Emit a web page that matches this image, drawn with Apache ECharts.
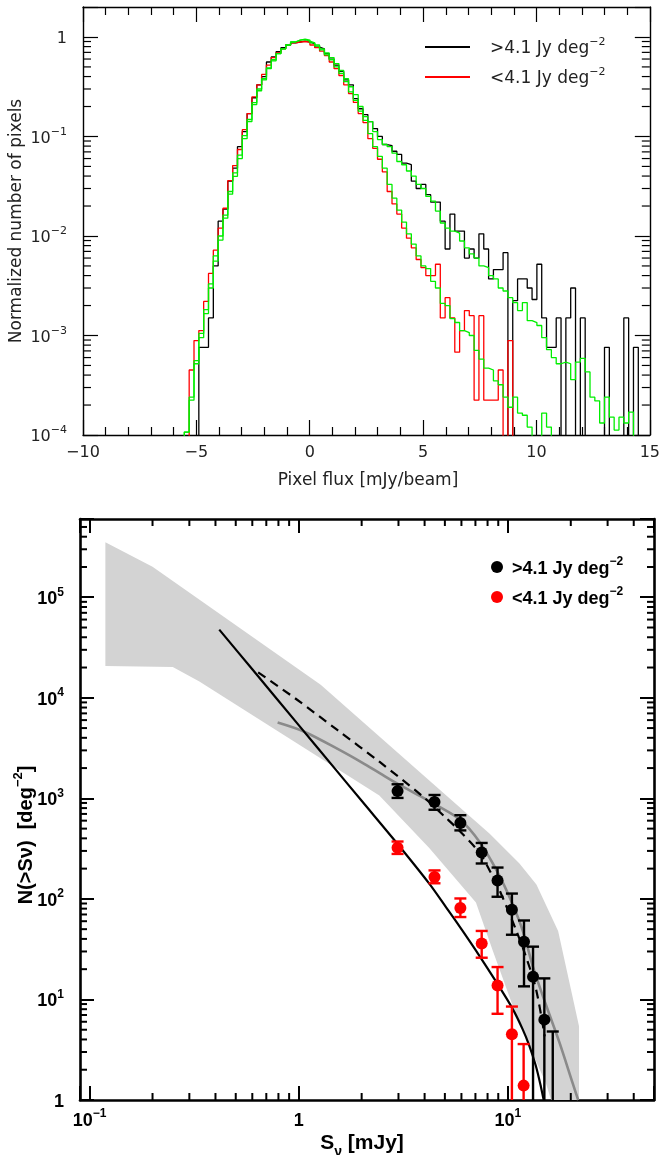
<!DOCTYPE html>
<html><head><meta charset="utf-8">
<script src="https://cdn.jsdelivr.net/npm/echarts@6/dist/echarts.min.js"></script>
<style>html,body{margin:0;padding:0;background:#fff}#c{width:663px;height:1155px}</style>
</head><body><div id="c"></div>
<script>
// ================= DATA =================
// Top panel: pixel-flux histograms (bins of equal width starting at binStart, mJy/beam)
const binStart = -5.53, binWidth = 0.213;
const histBlack = [0,0,0,7.6e-4,7.6e-4,1.5e-3,5.0e-3,1.41e-2,1.86e-2,3.55e-2,
  4.8e-2,7.9e-2,0.112,0.17,0.245,0.33,0.40,0.56,0.63,0.71,
  0.78,0.83,0.87,0.89,0.91,0.89,0.85,0.79,0.76,0.68,
  0.60,0.52,0.45,0.37,0.33,0.24,0.19,0.166,0.141,0.120,
  0.100,0.083,0.081,0.071,0.066,0.054,0.052,0.0355,0.030,0.033,
  0.026,0.0219,0.0219,0.0141,0.0074,0.0166,0.0112,0.0112,0.0060,0.0074,
  0.0060,0.0105,0.0074,0.0037,0.0046,0.0046,0.0068,0,0.00224,0.0037,
  0.0037,0.0030,0.0023,0.0052,0.0015,7.6e-4,7.6e-4,0.0015,0,0.0015,
  0.0030,0,0.0015,0,0,0,0,7.6e-4,0,0,
  0,0.0015,0,7.6e-4,0];
const histRed = [0,4.5e-4,8.9e-4,1.12e-3,2.2e-3,4.2e-3,7.2e-3,1.2e-2,1.9e-2,3.6e-2,
  5.1e-2,7.4e-2,0.117,0.17,0.25,0.33,0.42,0.52,0.62,0.69,
  0.76,0.83,0.87,0.89,0.90,0.89,0.83,0.78,0.72,0.65,
  0.56,0.48,0.41,0.33,0.27,0.22,0.17,0.138,0.095,0.076,
  0.059,0.044,0.028,0.021,0.0166,0.012,0.0095,0.0076,0.0058,0.0048,
  0.0040,0.0040,0.0052,0.0015,0.0024,0.0015,6.8e-4,1.12e-3,1.78e-3,1.58e-3,
  2.24e-4,1.58e-3,2.24e-4,2.24e-4,2.24e-4,4.5e-4,0,8.9e-4,0,0,
  0,0,0,0,0,0,0,0,0,0,
  0,0,0,0,0,0,0,0,0,0,
  0,0,0,0,0];
const histGreenHigh = [1.07e-4,2.24e-4,5.2e-4,9.5e-4,1.66e-3,3.0e-3,5.6e-3,9.1e-3,1.51e-2,2.63e-2,
  3.98e-2,6.0e-2,9.5e-2,0.141,0.209,0.288,0.37,0.48,0.575,0.68,
  0.76,0.83,0.89,0.93,0.95,0.93,0.87,0.83,0.76,0.69,
  0.62,0.54,0.46,0.38,0.316,0.263,0.20,0.158,0.141,0.112,
  0.093,0.083,0.079,0.068,0.056,0.052,0.045,0.040,0.033,0.030,
  0.025,0.0224,0.0178,0.0135,0.0120,0.0112,0.0107,0.0089,0.0076,0.0066,
  0.0060,0.0050,0.0048,0.0040,0.0037,0.0030,0.0028,0.0024,0.00214,0.00178,
  0.00214,0.00141,0.00135,0.00126,9.5e-4,7.2e-4,6.0e-4,5.2e-4,5.4e-4,5.2e-4,
  3.6e-4,5.4e-4,5.9e-4,4.3e-4,2.4e-4,2.2e-4,1.32e-4,2.4e-4,1.51e-4,1.12e-4,
  1.51e-4,1.32e-4,1.7e-4,0,0];
const histGreenLow = [1.07e-4,2.4e-4,5.6e-4,1.05e-3,1.82e-3,3.3e-3,6.3e-3,1.0e-2,1.62e-2,2.8e-2,
  4.3e-2,6.5e-2,0.102,0.148,0.219,0.30,0.38,0.49,0.59,0.68,
  0.76,0.83,0.89,0.93,0.94,0.91,0.87,0.81,0.74,0.66,
  0.59,0.50,0.43,0.355,0.28,0.23,0.18,0.145,0.107,0.079,
  0.063,0.048,0.033,0.024,0.0182,0.0138,0.0105,0.0083,0.0063,0.0050,
  0.0047,0.0035,0.0030,0.0021,0.0020,1.48e-3,1.35e-3,1.12e-3,1.07e-3,1.0e-3,
  7.1e-4,5.8e-4,4.7e-4,4.5e-4,3.5e-4,3.2e-4,2.4e-4,1.9e-4,2.4e-4,1.66e-4,
  1.58e-4,1.2e-4,0,0,1.66e-4,1.2e-4,0,0,0,0,
  0,0,0,0,0,0,0,0,0,0,
  0,0,0,0,0];

// Bottom panel: source counts N(>S)
const hiS  = [2.97, 4.46, 5.93, 7.5, 8.93, 10.46, 11.95, 13.2, 14.95, 16.4];
const hiN  = [1180, 920, 570, 290, 152, 78, 37.5, 16.8, 6.3, 0.95];
const hiLo = [1010, 770, 480, 225, 105, 44, 13.5, 0, 0, 0];
const hiHi = [1380, 1080, 680, 360, 205, 113, 61, 33.5, 16.2, 4.8];
const loS  = [2.97, 4.46, 5.93, 7.5, 8.93, 10.46, 11.9];
const loN  = [322, 165, 81, 36, 13.8, 4.5, 1.39];
const loLo = [280, 143, 66, 26, 7.2, 0, 0];
const loHi = [372, 192, 101, 48, 21, 8.5, 3.6];

const bandUpperS = [0.119, 0.2, 1.274, 8.19, 11.34, 13.7, 17.4, 21.9, 21.9];
const bandUpperN = [353000, 201000, 13500, 445, 226, 139, 48, 5.4, 1];
const bandLowerS = [0.119, 0.25, 0.335, 2.43, 4.21, 7.04, 8.45, 10.5, 12.2, 15.2, 16.1];
const bandLowerN = [20700, 20300, 14500, 1070, 320, 92, 31, 8.9, 4.1, 1.48, 1.0];

const grayS = [0.793, 1.057, 1.535, 2.0, 2.44, 2.98, 3.89, 4.45, 5.93, 7.3, 8.93, 10.46, 11.9, 13.2, 15.2, 17.6, 20.4, 21.7];
const grayN = [5670, 4620, 3100, 2280, 1780, 1390, 1030, 880, 610, 373, 185, 92, 45.5, 21, 8.9, 3.8, 1.48, 1.0];
const solidS = [0.417, 0.6, 1.0, 1.5, 2.0, 2.97, 4.21, 5.06, 6.08, 7.3, 8.77, 10.5, 11.75, 12.65, 13.6, 14.4, 14.9];
const solidN = [47600, 19200, 5350, 1940, 945, 352, 142, 83, 48, 27.3, 15.1, 8.2, 5.1, 3.5, 2.2, 1.35, 0.96];
const dashS = [0.64, 0.964, 1.535, 2.44, 3.89, 5.06, 5.85, 7.3, 8.15, 8.93, 10.46, 11.9, 13.6, 15.0];
const dashN = [17900, 9840, 4760, 2300, 1060, 640, 480, 290, 195, 135, 62, 31, 13, 4.3];

const legendHi = '>4.1 Jy deg', legendLo = '<4.1 Jy deg', legendSup = '−2';

// ================= HELPERS =================
const FT = 'DejaVu Sans';
const FB = "'Liberation Sans Narrow','Liberation Sans',Arial,sans-serif";
const EMPTY = 1e-6; // empty bins fall below the log axis

function histPath(vals){
  const pts = [[binStart, EMPTY]];
  vals.forEach((v,i)=>{
    const y = v > 0 ? v : EMPTY;
    const l = binStart + i*binWidth;
    pts.push([l, y], [l + binWidth, y]);
  });
  pts.push([binStart + vals.length*binWidth, EMPTY]);
  return pts;
}
function pairs(xs, ys){ return xs.map((x,i)=>[x, ys[i]]); }
function isDecade(v){ const l = Math.log10(v); return Math.abs(l - Math.round(l)) < 1e-6; }
function logLabel(v){
  if (!isDecade(v)) return '';
  const e = Math.round(Math.log10(v));
  if (e === 0) return '{b|1}';
  return '{b|10}{s|' + (e < 0 ? '−' + (-e) : e) + '}';
}
function minors(k0, k1, lo, hi){
  const out = [];
  for (let k = k0; k <= k1; k++) for (let m = 2; m <= 9; m++){
    const v = m * Math.pow(10, k);
    if (v > lo*1.0001 && v < hi*0.9999) out.push(v);
  }
  return out;
}
function yMinorSeries(xi, yi, vals, xAnchor, len, w){
  return { type:'custom', xAxisIndex:xi, yAxisIndex:yi, silent:true, z:10,
    data: vals.map(v=>[xAnchor, v]),
    renderItem(params, api){
      const cs = params.coordSys; const y = api.coord([xAnchor, api.value(1)])[1];
      const st = {stroke:'#000', lineWidth:w};
      return {type:'group', children:[
        {type:'line', shape:{x1:cs.x, y1:y, x2:cs.x+len, y2:y}, style:st},
        {type:'line', shape:{x1:cs.x+cs.width-len, y1:y, x2:cs.x+cs.width, y2:y}, style:st}]};
    }};
}
function xMinorSeries(xi, yi, vals, yAnchor, len, w){
  return { type:'custom', xAxisIndex:xi, yAxisIndex:yi, silent:true, z:10,
    data: vals.map(v=>[v, yAnchor]),
    renderItem(params, api){
      const cs = params.coordSys; const x = api.coord([api.value(0), yAnchor])[0];
      const st = {stroke:'#000', lineWidth:w};
      return {type:'group', children:[
        {type:'line', shape:{x1:x, y1:cs.y+cs.height, x2:x, y2:cs.y+cs.height-len}, style:st},
        {type:'line', shape:{x1:x, y1:cs.y, x2:x, y2:cs.y+len}, style:st}]};
    }};
}
function errSeries(S, N, lo, hi, color){
  return { type:'custom', xAxisIndex:2, yAxisIndex:2, silent:true, clip:true, z:5,
    data: S.map((s,i)=>[s, N[i], lo[i], hi[i]]),
    encode:{x:0, y:[1,2,3]},
    renderItem(params, api){
      const x = api.value(0), l = api.value(2), h = api.value(3);
      const pH = api.coord([x, h]);
      const pL = api.coord([x, l > 0 ? l : 1e-3]);
      const cap = 6, st = {stroke:color, lineWidth:2.4};
      return {type:'group', children:[
        {type:'line', shape:{x1:pH[0], y1:pH[1], x2:pL[0], y2:pL[1]}, style:st},
        {type:'line', shape:{x1:pH[0]-cap, y1:pH[1], x2:pH[0]+cap, y2:pH[1]}, style:st},
        {type:'line', shape:{x1:pL[0]-cap, y1:pL[1], x2:pL[0]+cap, y2:pL[1]}, style:st}]};
    }};
}

// ================= CHART =================
const chart = echarts.init(document.getElementById('c'), null, {renderer:'canvas'});

const topTickLab = {color:'#222', fontFamily:FT, fontSize:16};
const richTop = {b:{fontFamily:FT, fontSize:16, color:'#222', lineHeight:20, verticalAlign:'bottom'},
                 s:{fontFamily:FT, fontSize:11, color:'#222', lineHeight:11, verticalAlign:'top'}};
const richBot = {b:{fontFamily:FB, fontSize:18, fontWeight:'bold', color:'#000', lineHeight:22, verticalAlign:'bottom'},
                 s:{fontFamily:FB, fontSize:12, fontWeight:'bold', color:'#000', lineHeight:12, verticalAlign:'top'}};

const axT = {onZero:false, lineStyle:{color:'#000', width:1.4}};
const axB = {onZero:false, lineStyle:{color:'#000', width:2.6}};

const option = {
  animation:false,
  backgroundColor:'#fff',
  grid:[{left:83, top:7, width:570, height:428},
        {left:80, top:519, width:574, height:581}],
  legend:[
    {data:['hiTop','loTop'], left:425, top:37, padding:0, orient:'vertical', itemGap:10, itemWidth:45, itemHeight:2,
     icon:'rect', selectedMode:false,
     formatter: n => '{a|' + (n==='hiTop'?legendHi:legendLo) + '}{s|' + legendSup + '}',
     textStyle:{rich:{a:{fontFamily:FT, fontSize:17, color:'#222', lineHeight:20, verticalAlign:'bottom', padding:[0,0,0,15]},
                      s:{fontFamily:FT, fontSize:11, color:'#222', lineHeight:11, verticalAlign:'top'}}}},
    {data:['hiBot','loBot'], left:491, top:556, padding:0, orient:'vertical', itemGap:8, itemWidth:12, itemHeight:12,
     icon:'circle', selectedMode:false,
     formatter: n => '{a|' + (n==='hiBot'?legendHi:legendLo) + '}{s|' + legendSup + '}',
     textStyle:{rich:{a:{fontFamily:FB, fontSize:18, fontWeight:'bold', color:'#000', lineHeight:22, verticalAlign:'bottom', padding:[0,0,0,4]},
                      s:{fontFamily:FB, fontSize:12, fontWeight:'bold', color:'#000', lineHeight:12, verticalAlign:'top'}}}}
  ],
  xAxis:[
    {gridIndex:0, type:'value', min:-10, max:15, interval:5, position:'bottom',
     axisLine:axT, splitLine:{show:false},
     axisTick:{inside:true, length:15, lineStyle:{color:'#000', width:1.2}},
     minorTick:{show:true, splitNumber:5, length:8, lineStyle:{color:'#000', width:1.2}},
     axisLabel:{...topTickLab, margin:10, formatter:v => v < 0 ? '−' + (-v) : '' + v}},
    {gridIndex:0, type:'value', min:-10, max:15, interval:5, position:'top',
     axisLine:axT, splitLine:{show:false},
     axisTick:{inside:true, length:15, lineStyle:{color:'#000', width:1.2}},
     minorTick:{show:true, splitNumber:5, length:8, lineStyle:{color:'#000', width:1.2}},
     axisLabel:{show:false}},
    {gridIndex:1, type:'log', logBase:10, min:0.09, max:50, splitNumber:2, position:'bottom',
     axisLine:axB, splitLine:{show:false},
     axisTick:{inside:true, length:14, lineStyle:{color:'#000', width:2}},
     axisLabel:{margin:8, formatter:logLabel, rich:richBot}},
    {gridIndex:1, type:'log', logBase:10, min:0.09, max:50, splitNumber:2, position:'top',
     axisLine:axB, splitLine:{show:false},
     axisTick:{inside:true, length:14, lineStyle:{color:'#000', width:2}},
     axisLabel:{show:false}}
  ],
  yAxis:[
    {gridIndex:0, type:'log', logBase:10, min:1e-4, max:2, position:'left',
     axisLine:axT, splitLine:{show:false},
     axisTick:{inside:true, length:15, lineStyle:{color:'#000', width:1.2}},
     axisLabel:{margin:16, formatter:logLabel, rich:richTop}},
    {gridIndex:0, type:'log', logBase:10, min:1e-4, max:2, position:'right',
     axisLine:axT, splitLine:{show:false},
     axisTick:{inside:true, length:15, lineStyle:{color:'#000', width:1.2}},
     axisLabel:{show:false}},
    {gridIndex:1, type:'log', logBase:10, min:1, max:6e5, position:'left',
     axisLine:axB, splitLine:{show:false},
     axisTick:{inside:true, length:14, lineStyle:{color:'#000', width:2}},
     axisLabel:{margin:16, formatter:logLabel, rich:richBot}},
    {gridIndex:1, type:'log', logBase:10, min:1, max:6e5, position:'right',
     axisLine:axB, splitLine:{show:false},
     axisTick:{inside:true, length:14, lineStyle:{color:'#000', width:2}},
     axisLabel:{show:false}}
  ],
  graphic:[
    {type:'text', x:368, y:481, style:{text:'Pixel flux [mJy/beam]', font:'17px "DejaVu Sans"', fill:'#222', align:'center', verticalAlign:'middle'}},
    {type:'text', x:17, y:221, rotation:Math.PI/2, style:{text:'Normalized number of pixels', font:'17px "DejaVu Sans"', fill:'#222', align:'center', verticalAlign:'middle'}},
    {type:'text', x:362, y:1146, style:{text:'{a|S}{u|ν}{a| [mJy]}', align:'center', verticalAlign:'middle',
       rich:{a:{fontFamily:FB, fontSize:21, fontWeight:'bold', fill:'#000', lineHeight:26, verticalAlign:'top'},
             u:{fontFamily:FB, fontSize:14, fontWeight:'bold', fill:'#000', lineHeight:14, verticalAlign:'bottom'}}}},
    {type:'text', x:24, y:835, rotation:Math.PI/2, style:{text:'{a|N(>Sν)  [deg}{s|−2}{a|]}', align:'center', verticalAlign:'middle',
       rich:{a:{fontFamily:FB, fontSize:20, fontWeight:'bold', fill:'#000', lineHeight:25, verticalAlign:'bottom'},
             s:{fontFamily:FB, fontSize:13, fontWeight:'bold', fill:'#000', lineHeight:13, verticalAlign:'top'}}}}
  ],
  series:[
    // ---- top panel ----
    {name:'hiTop', type:'line', xAxisIndex:0, yAxisIndex:0, data:histPath(histBlack), showSymbol:false, clip:true,
     color:'#000', lineStyle:{color:'#000', width:1.3}, itemStyle:{color:'#000'}, z:2},
    {name:'loTop', type:'line', xAxisIndex:0, yAxisIndex:0, data:histPath(histRed), showSymbol:false, clip:true,
     color:'#ff0000', lineStyle:{color:'#ff0000', width:1.3}, itemStyle:{color:'#ff0000'}, z:3},
    {name:'greenHigh', type:'line', xAxisIndex:0, yAxisIndex:0, data:histPath(histGreenHigh), showSymbol:false, clip:true,
     lineStyle:{color:'#00ee00', width:1.3}, z:4},
    {name:'greenLow', type:'line', xAxisIndex:0, yAxisIndex:0, data:histPath(histGreenLow), showSymbol:false, clip:true,
     lineStyle:{color:'#00ee00', width:1.3}, z:4},
    yMinorSeries(0, 0, minors(-4, -1, 1e-4, 2), -10, 8, 1.2),
    // ---- bottom panel ----
    {type:'custom', xAxisIndex:2, yAxisIndex:2, silent:true, clip:true, z:1,
     data:[[bandUpperS[0], bandUpperN[0]]],
     renderItem(params, api){
       const up = bandUpperS.map((s,i)=>api.coord([s, bandUpperN[i]]));
       const lo = bandLowerS.map((s,i)=>api.coord([s, bandLowerN[i]])).reverse();
       return {type:'polygon', shape:{points:up.concat(lo)}, style:{fill:'#d3d3d3'}};
     }},
    {name:'model', type:'line', xAxisIndex:2, yAxisIndex:2, data:pairs(grayS, grayN), showSymbol:false, clip:true, smooth:0.3,
     lineStyle:{color:'#8a8a8a', width:2.6}, z:2},
    {name:'solid', type:'line', xAxisIndex:2, yAxisIndex:2, data:pairs(solidS, solidN), showSymbol:false, clip:true, smooth:0.3,
     lineStyle:{color:'#000', width:2.2}, z:3},
    {name:'dashed', type:'line', xAxisIndex:2, yAxisIndex:2, data:pairs(dashS, dashN), showSymbol:false, clip:true, smooth:0.3,
     lineStyle:{color:'#000', width:2.2, type:[9,6]}, z:3},
    errSeries(hiS, hiN, hiLo, hiHi, '#000'),
    errSeries(loS, loN, loLo, loHi, '#ff0000'),
    {name:'hiBot', type:'scatter', xAxisIndex:2, yAxisIndex:2, data:pairs(hiS, hiN), symbol:'circle', symbolSize:12, clip:true,
     color:'#000', itemStyle:{color:'#000', opacity:1}, z:6},
    {name:'loBot', type:'scatter', xAxisIndex:2, yAxisIndex:2, data:pairs(loS, loN), symbol:'circle', symbolSize:12, clip:true,
     color:'#ff0000', itemStyle:{color:'#ff0000', opacity:1}, z:6},
    yMinorSeries(2, 2, minors(0, 5, 1, 6e5), 0.09, 7, 2),
    xMinorSeries(2, 2, minors(-2, 1, 0.09, 50), 1, 7, 2)
  ]
};
chart.setOption(option);
</script>
</body></html>
